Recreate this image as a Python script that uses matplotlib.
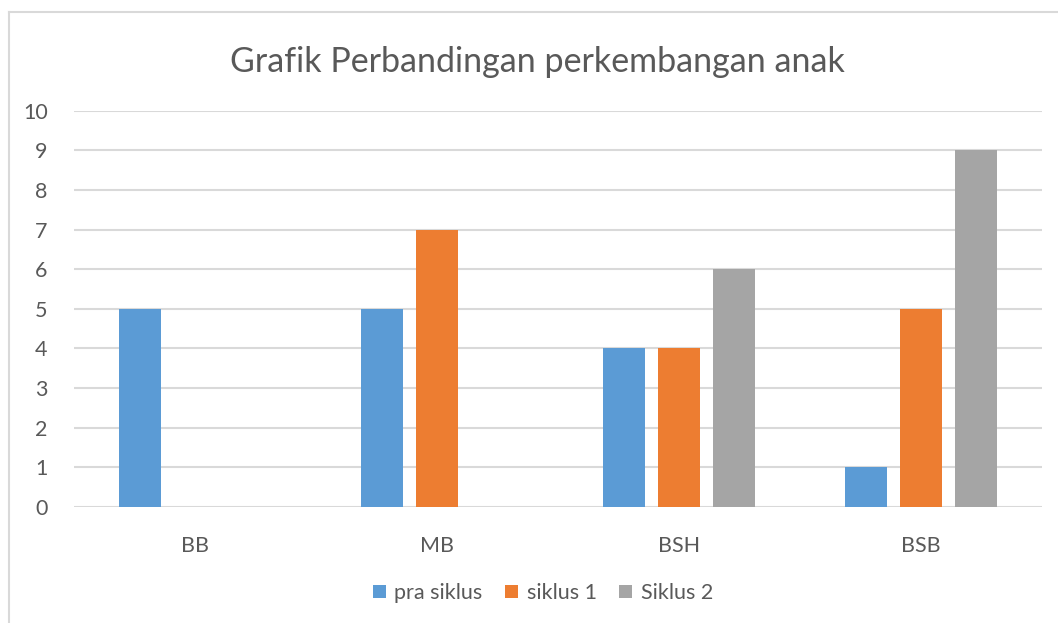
import matplotlib
matplotlib.use("Agg")
import matplotlib.pyplot as plt
from matplotlib.lines import Line2D
from matplotlib.patches import Patch
import numpy as np

categories = ["BB", "MB", "BSH", "BSB"]
series_names = ["pra siklus", "siklus 1", "Siklus 2"]
pra_siklus = [5, 5, 4, 1]
siklus_1 = [0, 7, 4, 5]
siklus_2 = [0, 0, 6, 9]
colors = ["#5B9BD5", "#ED7D31", "#A5A5A5"]
yticks = list(range(0, 11))

plt.rcParams['font.family'] = ['Lato', 'DejaVu Sans']
txt = "#595959"

W, H = 1058, 623
fig = plt.figure(figsize=(W / 100, H / 100), dpi=100)
ax = fig.add_axes([74 / W, 1 - 507 / H, (1042 - 74) / W, (507 - 110.7) / H])

x = np.arange(len(categories))
width = 0.17
offsets = [-0.227, 0.0, 0.227]
for vals, off, c, name in zip([pra_siklus, siklus_1, siklus_2], offsets, colors, series_names):
    ax.bar(x + off, vals, width=width, color=c, label=name, zorder=3, linewidth=0)

ax.set_xlim(-0.5, len(categories) - 0.5)
ax.set_ylim(0, 10)
ax.set_yticks(yticks)
ax.set_xticks(x)
ax.set_xticklabels(categories)
ax.grid(axis='y', color='#D9D9D9', linewidth=1.5, zorder=0)
ax.set_axisbelow(True)
for s in ax.spines.values():
    s.set_visible(False)
ax.tick_params(axis='both', length=0, colors=txt, labelsize=15.5)
ax.tick_params(axis='y', pad=19)
ax.tick_params(axis='x', pad=21)

fig.text(537 / W, 1 - 62 / H, "Grafik Perbandingan perkembangan anak",
         ha='center', va='center', fontsize=24.5, color=txt)

handles = [Patch(facecolor=c, edgecolor='none') for c in colors]
fig.legend(handles, series_names, loc='center', bbox_to_anchor=(543 / W, 1 - 593 / H),
           ncol=3, frameon=False, fontsize=15.5, handlelength=0.6, handleheight=0.6,
           handletextpad=0.4, columnspacing=1.05, labelcolor=txt)

# chart frame (left and top border)
fig.add_artist(Line2D([8.5 / W, 8.5 / W], [0, 1 - 12 / H], color='#D9D9D9', linewidth=1.5,
                      transform=fig.transFigure))
fig.add_artist(Line2D([8.5 / W, 1], [1 - 12 / H, 1 - 12 / H], color='#D9D9D9', linewidth=1.5,
                      transform=fig.transFigure))

fig.savefig("out.png", dpi=100, facecolor='white')
